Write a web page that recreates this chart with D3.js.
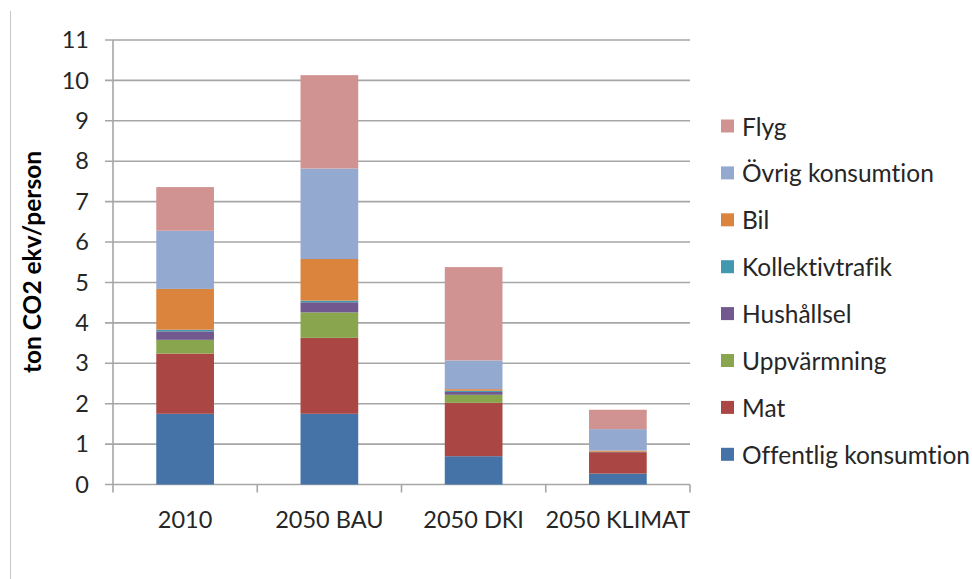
<!DOCTYPE html>
<html>
<head>
<meta charset="utf-8">
<script src="https://cdn.jsdelivr.net/npm/d3@7"></script>
<style>
  body { margin: 0; background: #fff; }
  svg text { font-family: Lato, "Open Sans", sans-serif; fill: #262626; font-variant-ligatures: none; }
</style>
</head>
<body>
<div id="chart"></div>
<script>
// categories and series (stack order bottom -> top)
var categories = ["2010", "2050 BAU", "2050 DKI", "2050 KLIMAT"];
var seriesNames = ["Offentlig konsumtion", "Mat", "Uppvärmning", "Hushållsel", "Kollektivtrafik", "Bil", "Övrig konsumtion", "Flyg"];
var offentlig = [1.75, 1.75, 0.70, 0.27];
var mat = [1.49, 1.88, 1.32, 0.53];
var uppvarmning = [0.34, 0.63, 0.20, 0.00];
var hushallsel = [0.21, 0.25, 0.07, 0.00];
var kollektivtrafik = [0.04, 0.04, 0.03, 0.01];
var bil = [1.01, 1.03, 0.04, 0.03];
var ovrig = [1.44, 2.24, 0.71, 0.53];
var flyg = [1.08, 2.31, 2.31, 0.48];
var yTicks = [0, 1, 2, 3, 4, 5, 6, 7, 8, 9, 10, 11];

var colours = ["#4572A7", "#AA4643", "#89A54E", "#71588F", "#4198AF", "#DB843D", "#93A9CF", "#D19392"];
var allSeries = [offentlig, mat, uppvarmning, hushallsel, kollektivtrafik, bil, ovrig, flyg];

var width = 972, height = 579;
var margin = {left: 113, top: 40, right: 282, bottom: 94.5};

// build rows for d3.stack
var rows = categories.map(function(c, i) {
  var r = {cat: c};
  seriesNames.forEach(function(s, j) { r[s] = allSeries[j][i]; });
  return r;
});
var stacked = d3.stack().keys(seriesNames)(rows);

var svg = d3.select("#chart").append("svg")
  .attr("width", width)
  .attr("height", height);

svg.append("rect").attr("width", width).attr("height", height).attr("fill", "#fff");

// chart area border on the left
svg.append("line")
  .attr("x1", 10.5).attr("x2", 10.5)
  .attr("y1", 11).attr("y2", height)
  .attr("stroke", "#c8c8c8").attr("stroke-width", 1);

var x = d3.scaleBand()
  .domain(categories)
  .range([margin.left, width - margin.right])
  .paddingInner(0.6)
  .paddingOuter(0.3);

var y = d3.scaleLinear()
  .domain([0, 11])
  .range([height - margin.bottom, margin.top]);

// gridlines
svg.append("g").selectAll("line")
  .data(yTicks)
  .enter().append("line")
  .attr("x1", margin.left - 8)
  .attr("x2", width - margin.right)
  .attr("y1", function(d) { return y(d); })
  .attr("y2", function(d) { return y(d); })
  .attr("stroke", "#a6a6a6")
  .attr("stroke-width", 1.6);

// y axis line
svg.append("line")
  .attr("x1", margin.left).attr("x2", margin.left)
  .attr("y1", y(11)).attr("y2", y(0))
  .attr("stroke", "#a6a6a6").attr("stroke-width", 1.6);

// category tick marks at band boundaries
var step = x.step();
var bounds = d3.range(categories.length + 1).map(function(i) { return margin.left + i * step; });
svg.append("g").selectAll("line")
  .data(bounds)
  .enter().append("line")
  .attr("x1", function(d) { return d; })
  .attr("x2", function(d) { return d; })
  .attr("y1", y(0))
  .attr("y2", y(0) + 8)
  .attr("stroke", "#a6a6a6").attr("stroke-width", 1.6);

// bars
svg.append("g").selectAll("g")
  .data(stacked)
  .enter().append("g")
  .attr("fill", function(d, i) { return colours[i]; })
  .selectAll("rect")
  .data(function(d) { return d; })
  .enter().append("rect")
  .attr("x", function(d) { return x(d.data.cat); })
  .attr("width", x.bandwidth())
  .attr("y", function(d) { return y(d[1]); })
  .attr("height", function(d) { return y(d[0]) - y(d[1]); });

// y tick labels
svg.append("g").selectAll("text")
  .data(yTicks)
  .enter().append("text")
  .attr("x", 89)
  .attr("y", function(d) { return y(d); })
  .attr("dy", "0.35em")
  .attr("text-anchor", "end")
  .style("font-size", "23.5px")
  .text(function(d) { return d; });

// category labels
svg.append("g").selectAll("text")
  .data(categories)
  .enter().append("text")
  .attr("x", function(d) { return x(d) + x.bandwidth() / 2; })
  .attr("y", 520)
  .attr("dy", "0.35em")
  .attr("text-anchor", "middle")
  .style("font-size", "23.5px")
  .text(function(d) { return d; });

// axis title
svg.append("text")
  .attr("transform", "translate(32,262) rotate(-90)")
  .attr("text-anchor", "middle")
  .attr("dy", "0.35em")
  .style("font-size", "24.5px")
  .style("font-weight", "bold")
  .style("fill", "#000")
  .text("ton CO2 ekv/person");

// legend (reverse order, top item = Flyg)
var legendItems = seriesNames.map(function(s, i) { return {name: s, colour: colours[i]}; }).reverse();
var legend = svg.append("g").selectAll("g")
  .data(legendItems)
  .enter().append("g")
  .attr("transform", function(d, i) { return "translate(721," + (126 + i * 46.9) + ")"; });

legend.append("rect")
  .attr("x", 0).attr("y", -6.5)
  .attr("width", 13).attr("height", 13)
  .attr("fill", function(d) { return d.colour; });

legend.append("text")
  .attr("x", 21)
  .attr("y", 1)
  .attr("dy", "0.35em")
  .style("font-size", "24.5px")
  .text(function(d) { return d.name; });
</script>
</body>
</html>
